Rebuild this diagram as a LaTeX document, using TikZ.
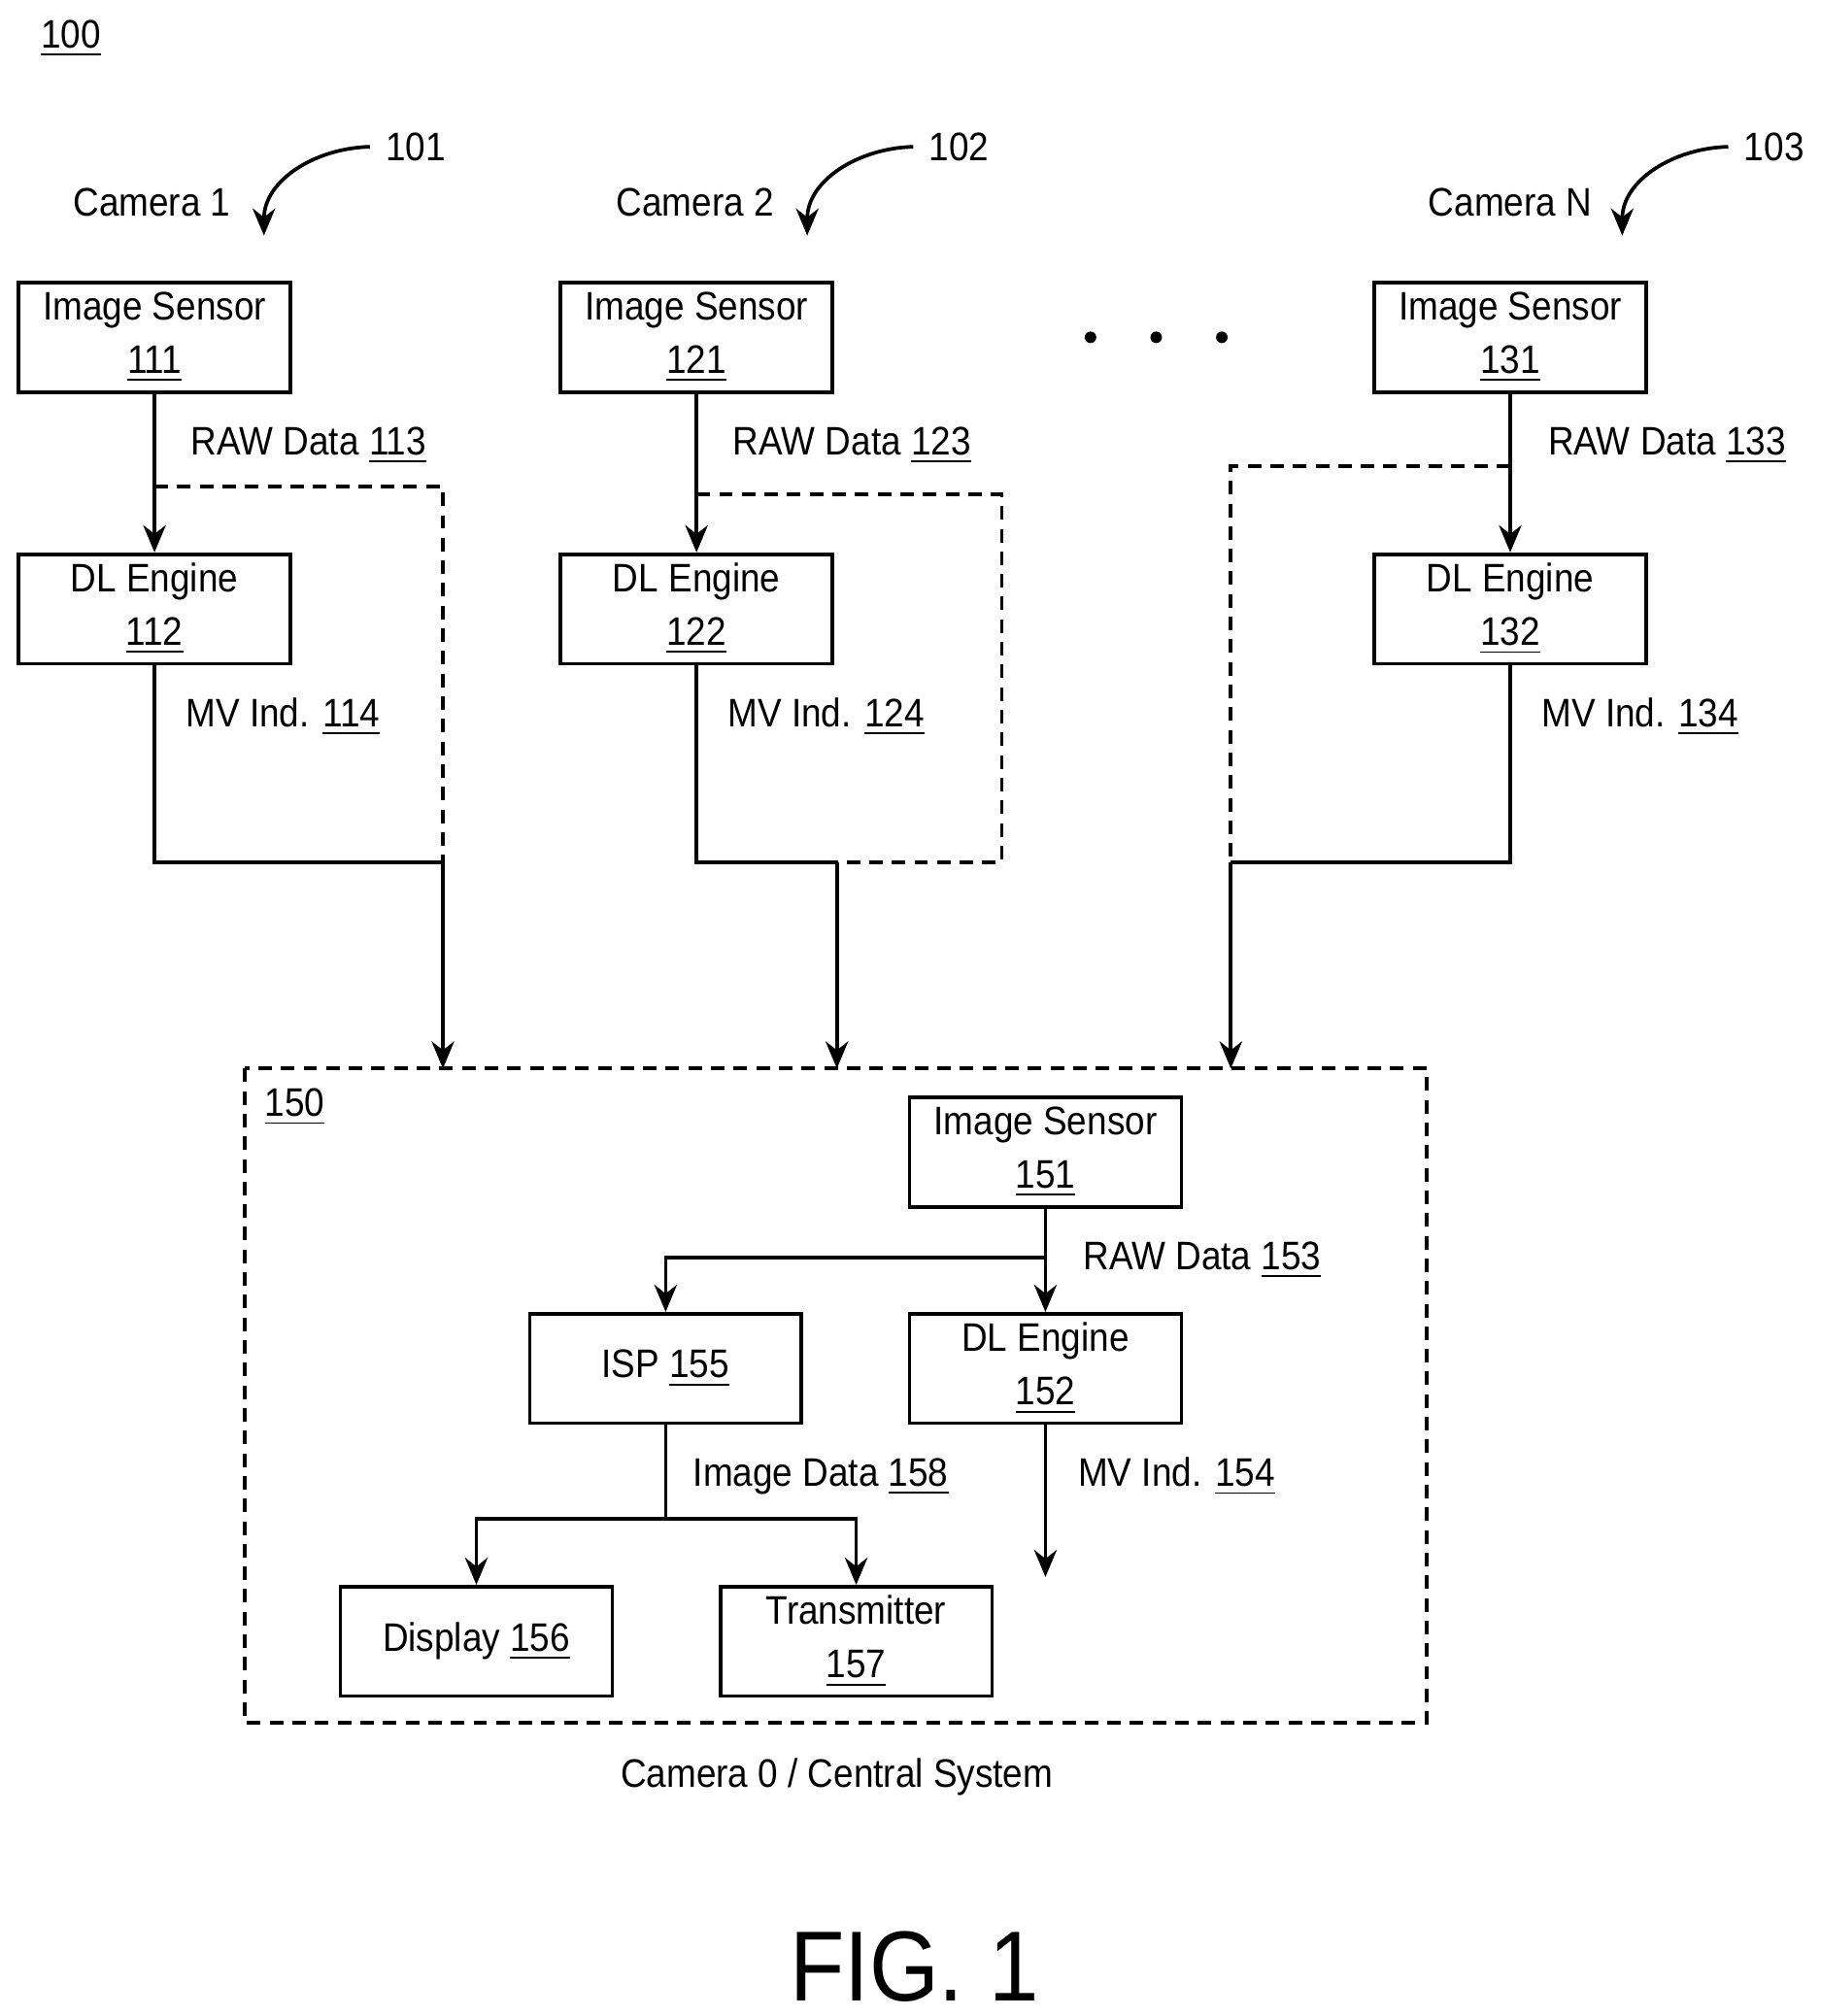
\documentclass[tikz,border=0pt]{standalone}
\usepackage{fontspec}
\setmainfont{Liberation Sans}[FakeStretch=0.9]
\usetikzlibrary{positioning,arrows.meta}
\newcommand{\refno}[1]{\underline{#1}}
\begin{document}
\begin{tikzpicture}[x=0.01cm,y=-0.01cm,font=\fontsize{8.8}{11.8}\selectfont,
  blk/.style={draw,line width=0.8pt,minimum width=2.11cm,minimum height=0.85cm,align=center,inner sep=1pt},
  wire/.style={line width=0.8pt},
  dashwire/.style={line width=0.8pt,dash pattern=on 3pt off 2pt},
  arr/.style={-{Stealth[length=6pt,width=5pt]},line width=0.8pt}]
\useasboundingbox (0,0) rectangle (1414,1566);
\node at (55,30) {\refno{100}};
% cameras
\node (c1) at (118,157) {Camera 1};
\node (c2) at (540,157) {Camera 2};
\node (cn) at (1173,157) {Camera N};
\node (r101) at (323,114) {101};
\node (r102) at (745,114) {102};
\node (r103) at (1378,114) {103};
\foreach \r/\x in {r101/205,r102/627,r103/1260}
  \draw[arr] (\r.west) .. controls (\x+40,115) and (\x,140) .. (\x,183);
\node[blk] (is1) at (120,262) {Image Sensor\\\refno{111}};
\node[blk] (is2) at (541,262) {Image Sensor\\\refno{121}};
\node[blk] (is3) at (1173,262) {Image Sensor\\\refno{131}};
\foreach \x in {847,898,949} \fill (\x,262) circle (4.5);
\node[blk] (dl1) at (120,473) {DL Engine\\\refno{112}};
\node[blk] (dl2) at (541,473) {DL Engine\\\refno{122}};
\node[blk] (dl3) at (1173,473) {DL Engine\\\refno{132}};
\node[anchor=west] at (136,346) {RAW Data \refno{113}};
\node[anchor=west] at (557,346) {RAW Data \refno{123}};
\node[anchor=west] at (1190,346) {RAW Data \refno{133}};
\node[anchor=west] at (132,557) {MV Ind. \refno{114}};
\node[anchor=west] at (553,557) {MV Ind. \refno{124}};
\node[anchor=west] at (1185,557) {MV Ind. \refno{134}};
\draw[arr] (is1) -- (dl1);
\draw[arr] (is2) -- (dl2);
\draw[arr] (is3) -- (dl3);
% central system
\draw[dashwire] (190,830) rectangle (1108,1338);
\node at (229,860) {\refno{150}};
\coordinate (in1) at (344,830);
\coordinate (in2) at (650,830);
\coordinate (in3) at (956,830);
\draw[dashwire] (120,378) -- (344,378) -- (344,670);
\draw[wire] (dl1) |- (344,670);
\draw[arr] (344,670) -- (in1);
\draw[dashwire] (541,384) -- (778,384) -- (778,670) -- (650,670);
\draw[wire] (dl2) |- (650,670);
\draw[arr] (650,670) -- (in2);
\draw[dashwire] (1173,362) -- (956,362) -- (956,670);
\draw[wire] (dl3) |- (956,670);
\draw[arr] (956,670) -- (in3);
\node[blk] (is0) at (812,895) {Image Sensor\\\refno{151}};
\node[blk] (dl0) at (812,1063) {DL Engine\\\refno{152}};
\node[blk] (isp) at (517,1063) {ISP \refno{155}};
\node[blk] (disp) at (370,1275) {Display \refno{156}};
\node[blk] (tx) at (665,1275) {Transmitter\\\refno{157}};
\coordinate (mv0) at (812,1225);
\node[anchor=west] at (829,979) {RAW Data \refno{153}};
\node[anchor=west] at (825,1147) {MV Ind. \refno{154}};
\node[anchor=west] at (526,1147) {Image Data \refno{158}};
\draw[arr] (is0) -- (dl0);
\draw[arr] (812,977) -| (isp);
\draw[arr] (dl0) -- (mv0);
\draw[wire] (isp) -- (517,1180);
\draw[arr] (517,1180) -| (disp);
\draw[arr] (517,1180) -| (tx);
\node at (650,1380) {Camera 0 / Central System};
\node[font=\fontsize{22}{26}\selectfont] at (710,1528) {FIG. 1};
\end{tikzpicture}
\end{document}
